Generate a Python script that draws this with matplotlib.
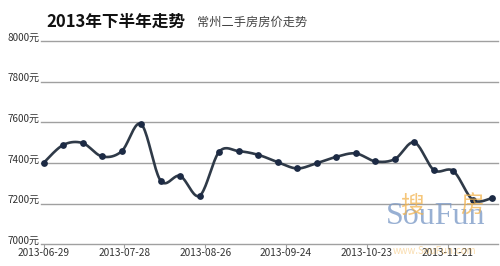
import numpy as np
import pandas as pd
import matplotlib
matplotlib.use('Agg')
import matplotlib.pyplot as plt

plt.rcParams['font.family'] = ['Noto Sans CJK SC', 'DejaVu Sans']

# weekly samples, second half of 2013
dates = ['2013-06-29', '2013-07-06', '2013-07-13', '2013-07-20', '2013-07-27', '2013-08-03',
         '2013-08-10', '2013-08-17', '2013-08-24', '2013-08-31', '2013-09-07', '2013-09-14',
         '2013-09-21', '2013-09-28', '2013-10-05', '2013-10-12', '2013-10-19', '2013-10-26',
         '2013-11-02', '2013-11-09', '2013-11-16', '2013-11-23', '2013-11-30', '2013-12-07']
prices = [7400, 7488, 7498, 7432, 7457, 7591, 7313, 7336, 7239, 7455, 7458, 7440,
          7404, 7373, 7399, 7430, 7447, 7408, 7419, 7501, 7365, 7360, 7218, 7228]
tick_dates = ['2013-06-29', '2013-07-28', '2013-08-26', '2013-09-24', '2013-10-23', '2013-11-21']
y_levels = [7000, 7200, 7400, 7600, 7800, 8000]

title = '2013年下半年走势'
subtitle = '常州二手房房价走势'


def smooth(x, y, n=20, t=0.5):
    # cardinal spline through the points, just for the rounded look
    x = np.asarray(x, float)
    y = np.asarray(y, float)
    xs, ys = [], []
    for i in range(len(x) - 1):
        i0 = max(i - 1, 0)
        i3 = min(i + 2, len(x) - 1)
        mx1 = t * (x[i + 1] - x[i0])
        my1 = t * (y[i + 1] - y[i0])
        mx2 = t * (x[i3] - x[i])
        my2 = t * (y[i3] - y[i])
        s = np.linspace(0, 1, n, endpoint=False)
        h1 = 2 * s**3 - 3 * s**2 + 1
        h2 = -2 * s**3 + 3 * s**2
        h3 = s**3 - 2 * s**2 + s
        h4 = s**3 - s**2
        xs.append(h1 * x[i] + h2 * x[i + 1] + h3 * mx1 + h4 * mx2)
        ys.append(h1 * y[i] + h2 * y[i + 1] + h3 * my1 + h4 * my2)
    xs.append([x[-1]])
    ys.append([y[-1]])
    return np.concatenate(xs), np.concatenate(ys)


start = pd.Timestamp(dates[0])
xd = np.array([(pd.Timestamp(d) - start).days for d in dates], float)
xt = np.array([(pd.Timestamp(d) - start).days for d in tick_dates], float)

fig = plt.figure(figsize=(5, 2.66), dpi=100)
ax = fig.add_axes([0.082, 0.0816, 0.914, 0.7644])
ax.set_xlim(-0.9, 163)
ax.set_ylim(7000, 8000)

for lv in y_levels:
    ax.axhline(lv, color='#a0a0a0', lw=1.0, zorder=1, clip_on=False)
    ax.annotate(f'{lv}元', xy=(0, lv), xycoords=('axes fraction', 'data'),
                xytext=(-1, 2.5), textcoords='offset points', ha='right', va='center',
                fontsize=7.2, color='#333333')

sx, sy = smooth(xd, prices)
ax.plot(sx, sy, color='#2f3a48', lw=1.9, zorder=3, solid_capstyle='round')
ax.scatter(xd, prices, s=24, color='#1c2a44', zorder=4, linewidths=0)

for s in ax.spines.values():
    s.set_visible(False)
ax.set_yticks([])
ax.set_xticks(xt)
ax.set_xticklabels(tick_dates, fontsize=7.3, color='#333333')
ax.tick_params(axis='x', length=3, width=0.8, color='#a0a0a0', pad=0)

# SouFun watermark, bottom right
fig.text(0.872, 0.185, 'SouFun', fontsize=23, family='Liberation Serif', color='#7f9cc8',
         alpha=0.8, ha='center', va='center', zorder=5)
fig.text(0.824, 0.225, '搜', fontsize=17, color='#f2b34e', alpha=0.75,
         ha='center', va='center', zorder=5)
fig.text(0.944, 0.225, '房', fontsize=17, color='#f2b34e', alpha=0.75,
         ha='center', va='center', zorder=5)
fig.text(0.87, 0.055, 'www.SouFun.com', fontsize=7, color='#f2b34e', alpha=0.45,
         ha='center', va='center', zorder=2)

fig.text(0.092, 0.919, title, fontsize=12, fontweight='bold', color='#111111', va='center')
fig.text(0.394, 0.917, subtitle, fontsize=8.8, color='#444444', va='center')

fig.savefig('out.png', dpi=100, facecolor='white')
